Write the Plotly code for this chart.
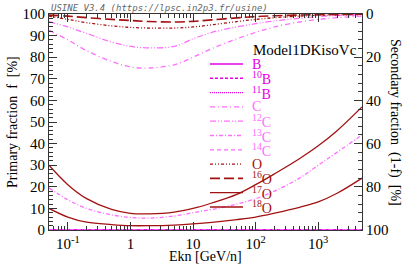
import plotly.graph_objects as go

# ---------------- data ----------------
E = [0.05, 0.1, 0.2, 0.5, 1, 2, 5, 10, 20, 50, 100, 200, 500, 1000, 2000, 5000]

f_B   = [0, 0, 0, 0, 0, 0, 0, 0, 0, 0, 0, 0, 0, 0, 0, 0]
f_10B = [0, 0, 0, 0, 0, 0, 0, 0, 0, 0, 0, 0, 0, 0, 0, 0]
f_11B = [0, 0, 0, 0, 0, 0, 0, 0, 0, 0, 0, 0, 0, 0, 0, 0]
f_C   = [92.5, 88, 83, 78, 75.5, 75, 76.5, 80, 84, 88.5, 91.5, 94, 96.3, 97.5, 98.3, 99]
f_12C = [96.5, 94, 91, 87, 85, 84.3, 85, 88.5, 91.5, 94, 95.5, 96.8, 98, 98.8, 99.3, 99.6]
f_13C = [19.5, 14, 10, 7, 5.8, 5.5, 6.5, 8, 9.5, 12, 14.5, 18, 24, 30, 36, 44]
f_14C = [0, 0, 0, 0, 0, 0, 0, 0, 0, 0, 0, 0, 0, 0, 0, 0]
f_O   = [99, 97.5, 96, 94.5, 93.8, 93.5, 93.5, 94, 95, 96.5, 97.5, 98.3, 99, 99.4, 99.6, 99.8]
f_16O = [99.5, 99, 98.3, 97.5, 97, 96.5, 96.3, 96.6, 97.3, 98.2, 98.8, 99.2, 99.5, 99.7, 99.8, 99.9]
f_17O = [30, 21, 14.5, 9.5, 7.7, 7.5, 8.3, 10, 12.5, 16.5, 21, 26, 33, 39, 46, 57]
f_18O = [10, 6, 3.6, 2.5, 2, 2, 2.3, 2.8, 3.5, 4.8, 6, 7.8, 10.5, 13, 17, 24]

names  = ["B", "<sup>10</sup>B", "<sup>11</sup>B",
          "C", "<sup>12</sup>C", "<sup>13</sup>C", "<sup>14</sup>C",
          "O", "<sup>16</sup>O", "<sup>17</sup>O", "<sup>18</sup>O"]
series = [f_B, f_10B, f_11B, f_C, f_12C, f_13C, f_14C, f_O, f_16O, f_17O, f_18O]

x_tickvals = [0.1, 1, 10, 100, 1000]
x_ticktext = ["10<sup>-1</sup>", "1", "10", "10<sup>2</sup>", "10<sup>3</sup>"]

# ---------------- styles ----------------
MAG = "#e600e6"
PNK = "#ff6eff"
RED = "#a31212"
colors = [MAG, MAG, MAG, PNK, PNK, PNK, PNK, RED, RED, RED, RED]
dashes = ["solid", "3px,2px", "1px,1px",
          "5px,3px,1px,3px", "6px,2px,1px,2px,1px,2px", "4px,2px,1px,2px", "4px,3px",
          "3px,2px,1px,2px,1px,2px", "10px,4px", "solid", "solid"]
widths = [1.6, 1.4, 1.4, 1.3, 1.3, 1.3, 1.3, 1.3, 1.6, 1.3, 1.3]

fig = go.Figure()
for nm, ys, c, d, w in zip(names, series, colors, dashes, widths):
    fig.add_trace(go.Scatter(x=E, y=ys, mode="lines", name=nm,
                             line=dict(color=c, dash=d, width=w, shape="spline", smoothing=1.0),
                             showlegend=False))

# secondary axis carrier (invisible)
fig.add_trace(go.Scatter(x=[E[0]], y=[0], yaxis="y2", mode="lines",
                         line=dict(width=0), showlegend=False, hoverinfo="skip"))

FONT = "Liberation Serif"
AX = "#333333"
minor_x = [m * 10 ** k for k in range(-2, 4) for m in range(2, 10)]

fig.update_layout(
    width=407, height=265,
    margin=dict(l=49, r=45, t=14, b=35, autoexpand=False),
    paper_bgcolor="white", plot_bgcolor="white",
    font=dict(family=FONT, color="black", size=14),
    xaxis=dict(type="log", range=[-1.30103, 3.69897], automargin=False,
               tickvals=x_tickvals, ticktext=x_ticktext,
               ticks="inside", ticklen=8, tickcolor=AX, tickwidth=1,
               minor=dict(tickvals=minor_x, ticks="inside", ticklen=4, tickcolor=AX),
               showline=True, linecolor=AX, linewidth=1, mirror="ticks",
               showgrid=False, zeroline=False,
               tickfont=dict(family=FONT, size=15)),
    yaxis=dict(range=[0, 100], dtick=10, tick0=0, automargin=False,
               ticks="inside", ticklen=8, tickcolor=AX,
               minor=dict(dtick=2, ticks="inside", ticklen=4, tickcolor=AX),
               showline=True, linecolor=AX, linewidth=1,
               showgrid=False, zeroline=False,
               tickfont=dict(family=FONT, size=15)),
    yaxis2=dict(overlaying="y", side="right", range=[100, 0], dtick=20, tick0=0, automargin=False,
                ticks="inside", ticklen=8, tickcolor=AX,
                minor=dict(dtick=4, ticks="inside", ticklen=4, tickcolor=AX),
                showline=True, linecolor=AX, linewidth=1,
                showgrid=False, zeroline=False,
                tickfont=dict(family=FONT, size=15)),
)

plot_l, plot_r, plot_t, plot_b = 49, 362, 14, 230
def px2paper(xp, yp):
    return (xp - plot_l) / (plot_r - plot_l), (plot_b - yp) / (plot_b - plot_t)

# axis titles
ax_, ay_ = px2paper(12, 122)
fig.add_annotation(text="Primary fraction  f  [%]", xref="paper", yref="paper",
                   x=ax_, y=ay_, textangle=-90, showarrow=False,
                   font=dict(family=FONT, size=14), xanchor="center", yanchor="middle")
ax_, ay_ = px2paper(395, 122)
fig.add_annotation(text="Secondary fraction  (1-f)  [%]", xref="paper", yref="paper",
                   x=ax_, y=ay_, textangle=90, showarrow=False,
                   font=dict(family=FONT, size=14), xanchor="center", yanchor="middle")
ax_, ay_ = px2paper(205, 256)
fig.add_annotation(text="Ekn [GeV/n]", xref="paper", yref="paper",
                   x=ax_, y=ay_, showarrow=False,
                   font=dict(family=FONT, size=14), xanchor="center", yanchor="middle")

# header text
fig.add_annotation(text="<i>USINE V3.4 (https://lpsc.in2p3.fr/usine)</i>",
                   xref="paper", yref="paper", x=0.0, y=1.0, xanchor="left", yanchor="bottom",
                   showarrow=False, yshift=-1,
                   font=dict(family="DejaVu Sans Mono", size=9, color="#666666"))

# ---------------- hand-made legend (inside plot) ----------------
tx, ty = px2paper(251, 50)
fig.add_annotation(text="Model1DKisoVc", xref="paper", yref="paper", x=tx, y=ty,
                   xanchor="left", yanchor="middle", showarrow=False,
                   font=dict(family=FONT, size=15, color="black"))

row0, step = 64.0, 14.3
for i, (nm, c, d, w) in enumerate(zip(names, colors, dashes, widths)):
    yp = row0 + i * step
    x0, y0 = px2paper(210, yp)
    x1, _ = px2paper(243, yp)
    fig.add_shape(type="line", xref="paper", yref="paper", x0=x0, x1=x1, y0=y0, y1=y0,
                  line=dict(color=c, dash=d, width=w))
    xt, _ = px2paper(250, yp)
    fig.add_annotation(text=nm, xref="paper", yref="paper", x=xt, y=y0,
                       xanchor="left", yanchor="middle", showarrow=False,
                       font=dict(family=FONT, size=14, color=c))

fig.write_html("out.html", config={"displayModeBar": False},
               post_script="document.body.style.margin='0px';")
